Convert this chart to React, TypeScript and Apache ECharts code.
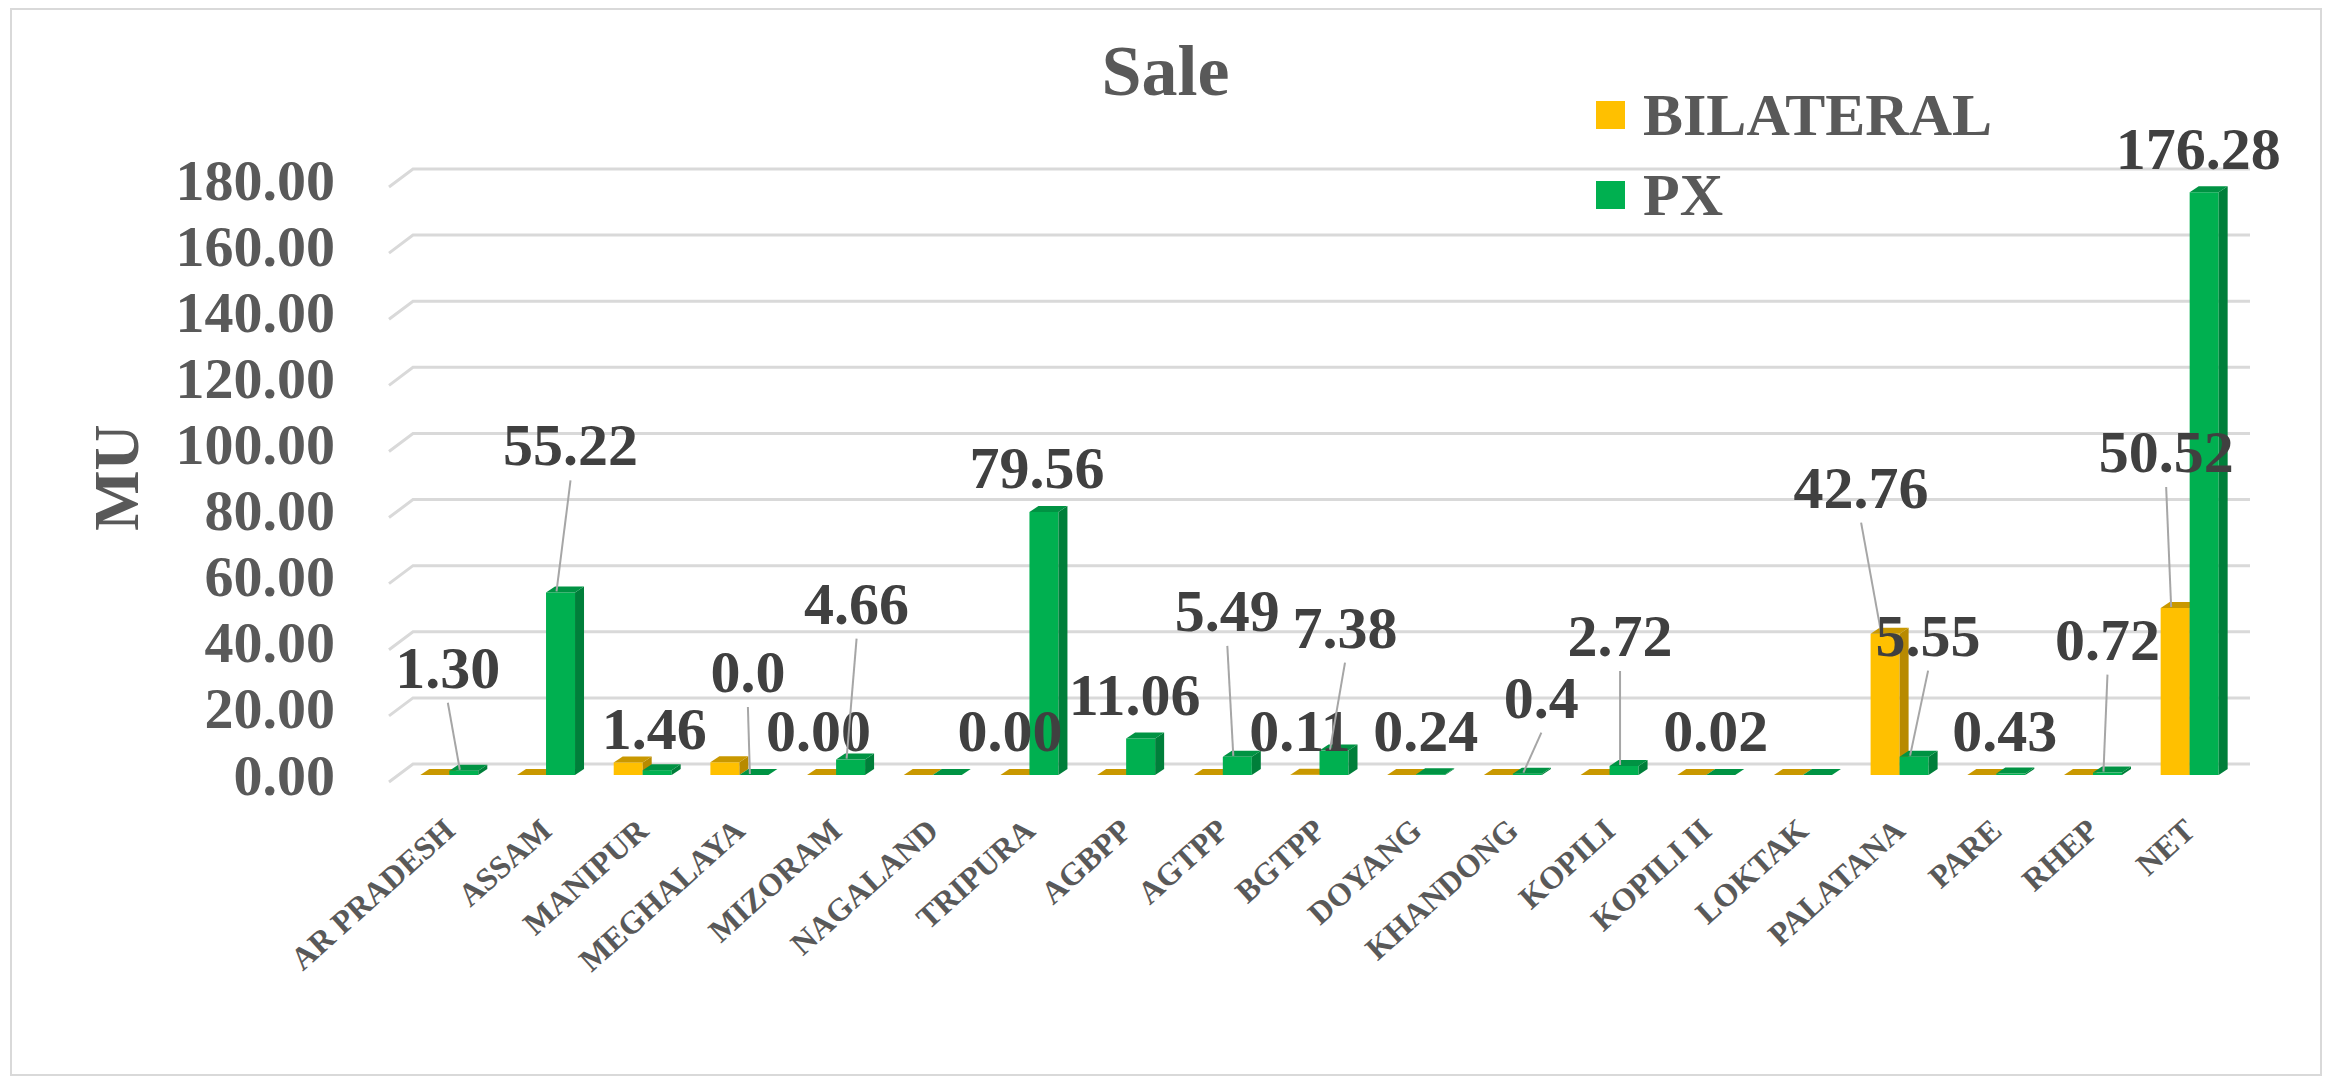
import React, { useEffect, useRef } from "react";
import * as echarts from "echarts";

const categories = [
  "AR PRADESH", "ASSAM", "MANIPUR", "MEGHALAYA", "MIZORAM", "NAGALAND", "TRIPURA",
  "AGBPP", "AGTPP", "BGTPP", "DOYANG", "KHANDONG", "KOPILI", "KOPILI II", "LOKTAK",
  "PALATANA", "PARE", "RHEP", "NET",
];
const bilateral = [0, 0, 3.8, 3.85, 0, 0, 0, 0, 0, 0.11, 0, 0, 0, 0, 0, 42.76, 0, 0, 50.52];
const px = [1.3, 55.22, 1.46, 0.0, 4.66, 0, 79.56, 11.06, 5.49, 7.38, 0.24, 0.4, 2.72, 0.02, 0, 5.55, 0.43, 0.72, 176.28];
const bilLabels = [null, null, null, null, "0.00", null, "0.00", null, null, "0.11", null, null, null, null, null, "42.76", null, null, "50.52"];
const pxLabels = ["1.30", "55.22", "1.46", "0.0", "4.66", null, "79.56", "11.06", "5.49", "7.38", "0.24", "0.4", "2.72", "0.02", null, "5.55", "0.43", "0.72", "176.28"];
const yTicks = [0, 20, 40, 60, 80, 100, 120, 140, 160, 180];

// label placement relative to bar (dx from bar centre, dy from bar top, leader line)
const bilPlace: Record<number, [number, number, boolean]> = {
  4: [-3, -44, false], 6: [-5, -44, false], 9: [-5, -44, false], 15: [-24, -146, true], 18: [-9, -156, true],
};
const pxPlace: Record<number, [number, number, boolean]> = {
  0: [-16, -103, true], 1: [10, -147, true], 2: [-3, -41, false], 3: [-6, -103, true], 4: [6, -156, true],
  6: [-7, -44, false], 7: [-6, -43, false], 8: [-10, -146, true], 9: [11, -123, true], 10: [-5, -43, false],
  11: [14, -76, true], 12: [-4, -130, true], 13: [-5, -44, false], 15: [14, -121, true], 16: [-6, -43, false],
  17: [0, -133, true], 18: [-6, -43, false],
};

const FONT = "'Liberation Serif', 'Times New Roman', serif";
const BW = 29;
const D = 9;
const R = 6;
const COLORS = {
  bil: { front: "#FFC000", side: "#B88A00", top: "#C99800" },
  px: { front: "#00B050", side: "#007F3A", top: "#009343" },
};

type LabelItem = { i: number; s: number; text: string; dx: number; dy: number; line: boolean };
const labelItems: LabelItem[] = [];
bilLabels.forEach((t, i) => {
  if (t != null) {
    const p = bilPlace[i];
    labelItems.push({ i, s: 0, text: t, dx: p[0], dy: p[1], line: p[2] });
  }
});
pxLabels.forEach((t, i) => {
  if (t != null) {
    const p = pxPlace[i];
    labelItems.push({ i, s: 1, text: t, dx: p[0], dy: p[1], line: p[2] });
  }
});

function facesRenderer(which: "bil" | "px") {
  const c = COLORS[which];
  return (params: any, api: any) => {
    const i = api.value(0);
    const v = api.value(1);
    const t = api.coord([i, v]);
    const b = api.coord([i, 0]);
    const xl = which === "bil" ? t[0] - BW : t[0];
    const xr = xl + BW;
    const ty = t[1];
    const by = b[1];
    return {
      type: "group",
      children: [
        { type: "polygon", shape: { points: [[xr, ty], [xr + D, ty - R], [xr + D, by - R], [xr, by]] }, style: { fill: c.side } },
        { type: "polygon", shape: { points: [[xl, ty], [xl + D, ty - R], [xr + D, ty - R], [xr, ty]] }, style: { fill: c.top } },
      ],
    };
  };
}

function gridRenderer(params: any, api: any) {
  const v = api.value(1);
  const y = api.coord([0, v])[1];
  const cs = params.coordSys;
  const left = cs.x;
  const right = cs.x + cs.width;
  return {
    type: "polyline",
    shape: { points: [[left - 12, y + 7], [left + 12, y - 11], [right + 12, y - 11]] },
    style: { stroke: "#d9d9d9", lineWidth: 3, fill: "none" },
  };
}

function labelRenderer(params: any, api: any) {
  const it = labelItems[params.dataIndex];
  const i = api.value(0);
  const v = api.value(1);
  const top = api.coord([i, v]);
  const cx = it.s === 0 ? top[0] - BW / 2 : top[0] + BW / 2;
  const lx = cx + it.dx;
  const ly = top[1] + it.dy;
  const children: any[] = [];
  if (it.line) {
    children.push({
      type: "line",
      shape: { x1: lx, y1: ly + 35, x2: cx - 4, y2: top[1] - 1 },
      style: { stroke: "#a6a6a6", lineWidth: 2 },
    });
  }
  children.push({
    type: "text",
    x: lx,
    y: ly,
    style: {
      text: it.text,
      fontFamily: FONT,
      fontSize: 60,
      fontWeight: "bold",
      fill: "#404040",
      align: "center",
      verticalAlign: "middle",
    },
  });
  return { type: "group", children };
}

export default function App() {
  const ref = useRef<HTMLDivElement>(null);
  useEffect(() => {
    if (!ref.current) return;
    const chart = echarts.init(ref.current, undefined, { renderer: "svg" });
    chart.setOption({
      animation: false,
      backgroundColor: "#ffffff",
      title: {
        text: "Sale",
        left: "center",
        top: 30,
        textStyle: { fontFamily: FONT, fontSize: 72, fontWeight: "bold", color: "#595959" },
      },
      legend: {
        data: ["BILATERAL", "PX"],
        orient: "vertical",
        left: 1591,
        top: 80,
        itemWidth: 29,
        itemHeight: 28,
        itemGap: 20,
        icon: "rect",
        textStyle: { fontFamily: FONT, fontSize: 60, lineHeight: 60, fontWeight: "bold", color: "#595959", padding: [0, 0, 0, 13] },
      },
      graphic: [
        {
          type: "rect",
          z: -10,
          shape: { x: 11, y: 9, width: 2310, height: 1066 },
          style: { fill: "none", stroke: "#d9d9d9", lineWidth: 2 },
        },
      ],
      grid: { left: 401, right: 93, top: 180, bottom: 306, containLabel: false, outerBoundsMode: "none" },
      xAxis: {
        type: "category",
        data: categories,
        axisLine: { show: false },
        axisTick: { show: false },
        axisLabel: {
          interval: 0,
          rotate: 42,
          margin: 50,
          fontFamily: FONT,
          fontSize: 32,
          fontWeight: "bold",
          color: "#595959",
        },
      },
      yAxis: {
        type: "value",
        min: 0,
        max: 180,
        interval: 20,
        name: "MU",
        nameLocation: "middle",
        nameGap: 253,
        nameTextStyle: { fontFamily: FONT, fontSize: 64, fontWeight: "bold", color: "#595959" },
        axisLine: { show: false },
        axisTick: { show: false },
        splitLine: { show: false },
        axisLabel: {
          margin: 66,
          formatter: (v: number) => v.toFixed(2),
          fontFamily: FONT,
          fontSize: 58,
          fontWeight: "bold",
          color: "#595959",
          padding: [10, 0, 0, 0],
        },
      },
      series: [
        {
          type: "custom",
          name: "grid3d",
          z: 0,
          silent: true,
          renderItem: gridRenderer,
          data: yTicks.map((v) => [0, v]),
        },
        {
          type: "bar",
          name: "BILATERAL",
          z: 1,
          barWidth: BW,
          barGap: "0%",
          itemStyle: { color: COLORS.bil.front },
          data: bilateral,
        },
        {
          type: "custom",
          name: "bil3d",
          z: 2,
          silent: true,
          renderItem: facesRenderer("bil"),
          data: bilateral.map((v, i) => [i, v]),
        },
        {
          type: "bar",
          name: "PX",
          z: 3,
          barWidth: BW,
          barGap: "0%",
          itemStyle: { color: COLORS.px.front },
          data: px,
        },
        {
          type: "custom",
          name: "px3d",
          z: 4,
          silent: true,
          renderItem: facesRenderer("px"),
          data: px.map((v, i) => [i, v]),
        },
        {
          type: "custom",
          name: "labels",
          z: 10,
          silent: true,
          renderItem: labelRenderer,
          data: labelItems.map((it) => [it.i, it.s === 0 ? bilateral[it.i] : px[it.i]]),
        },
      ],
    });
    return () => chart.dispose();
  }, []);
  return (
    <div
      ref={ref}
      style={{ position: "fixed", left: 0, top: 0, width: 2331, height: 1081, background: "#fff" }}
    />
  );
}
